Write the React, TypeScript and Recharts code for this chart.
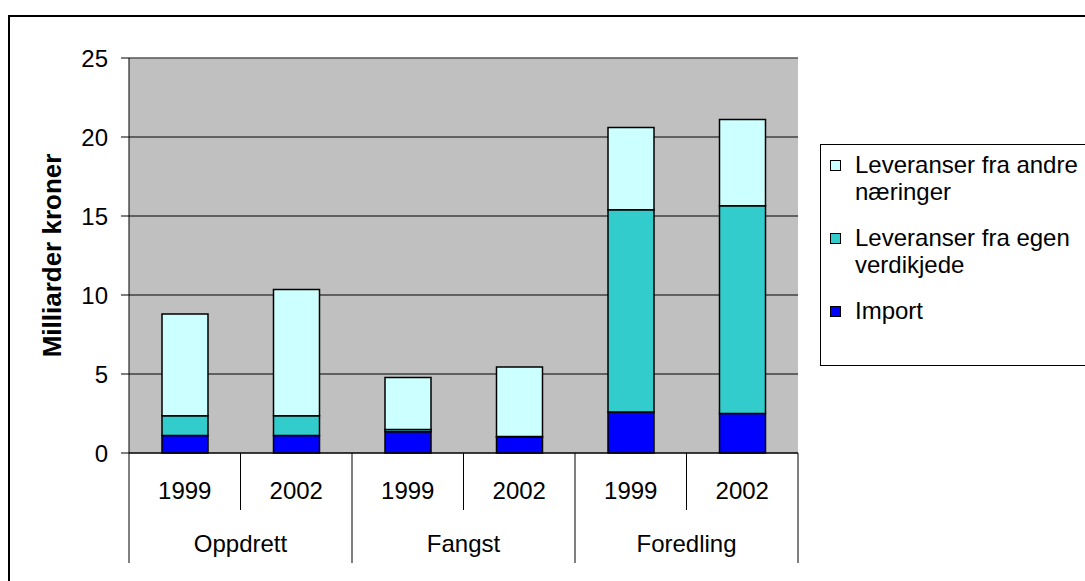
import React from "react";
import {
  BarChart,
  Bar,
  XAxis,
  YAxis,
  CartesianGrid,
  Legend,
  ReferenceLine,
} from "recharts";

const years = ["1999", "2002", "1999", "2002", "1999", "2002"];
const groups = ["Oppdrett", "Oppdrett", "Fangst", "Fangst", "Foredling", "Foredling"];
const importValues = [1.1, 1.1, 1.35, 1.0, 2.6, 2.5];
const egenValues = [1.25, 1.25, 0.13, 0.04, 12.8, 13.15];
const andreValues = [6.45, 8.0, 3.3, 4.4, 5.2, 5.45];
const yTicks = [0, 5, 10, 15, 20, 25];
const legendOrder = ["Leveranser fra andre næringer", "Leveranser fra egen verdikjede", "Import"];

const data = years.map((year, i) => ({
  year,
  group: groups[i],
  import: importValues[i],
  egen: egenValues[i],
  andre: andreValues[i],
}));

const FONT = '"Liberation Sans", Arial, sans-serif';
const W = 1085;
const H = 581;
const LEFT = 129;
const RIGHT = 287;
const BAND = (W - LEFT - RIGHT) / years.length;

function CategoryTick(props: any) {
  const { x, y, payload } = props;
  const index = props.index ?? payload.index;
  const half = BAND / 2;
  const left = x - half;
  const groupStart = index % 2 === 0;
  return (
    <g>
      <line x1={left} x2={left} y1={y} y2={groupStart ? y + 110 : y + 57} stroke="#000" />
      {index === years.length - 1 && (
        <line x1={x + half} x2={x + half} y1={y} y2={y + 110} stroke="#000" />
      )}
      <text x={x} y={y + 46} textAnchor="middle" fontSize={24} fontFamily={FONT} fill="#000">
        {payload.value}
      </text>
      {!groupStart && (
        <text x={left} y={y + 99} textAnchor="middle" fontSize={24} fontFamily={FONT} fill="#000">
          {groups[index]}
        </text>
      )}
    </g>
  );
}

function YLabel(props: any) {
  const { viewBox } = props;
  const cy = viewBox.y + viewBox.height / 2;
  return (
    <text
      x={61}
      y={cy}
      transform={`rotate(-90, 61, ${cy})`}
      textAnchor="middle"
      fontSize={26}
      fontWeight="bold"
      fontFamily={FONT}
      fill="#000"
    >
      Milliarder kroner
    </text>
  );
}

function LegendBox(props: any) {
  const payload = props.payload || [];
  const items = legendOrder
    .map((name) => payload.find((p: any) => p.value === name))
    .filter(Boolean);
  return (
    <div
      style={{
        boxSizing: "border-box",
        width: 300,
        height: 222,
        border: "1px solid #000",
        background: "#fff",
        paddingTop: 6,
        paddingLeft: 9,
        fontFamily: FONT,
        fontSize: 24,
        lineHeight: "27px",
        color: "#000",
      }}
    >
      {items.map((item: any) => (
        <div key={item.value} style={{ display: "flex", alignItems: "flex-start", marginBottom: 19 }}>
          <div
            style={{
              boxSizing: "border-box",
              width: 11,
              height: 11,
              marginTop: 9,
              marginRight: 14,
              border: "1px solid #000",
              background: item.color,
              flexShrink: 0,
            }}
          />
          <div style={{ width: 236 }}>{item.value}</div>
        </div>
      ))}
    </div>
  );
}

export default function App() {
  return (
    <div
      style={{
        position: "absolute",
        left: 0,
        top: 0,
        width: W,
        height: H,
        overflow: "hidden",
        background: "#fff",
      }}
    >
      <div
        style={{
          position: "absolute",
          left: 8,
          top: 15,
          width: 1200,
          height: 700,
          border: "2px solid #000",
        }}
      />
      <div style={{ position: "absolute", left: 0, top: 0 }}>
        <BarChart
          width={W}
          height={H}
          data={data}
          margin={{ top: 58, right: RIGHT, bottom: 0, left: 0 }}
          barSize={46}
        >
          <CartesianGrid vertical={false} stroke="#000" fill="#c0c0c0" fillOpacity={1} />
          <XAxis
            dataKey="year"
            height={128}
            interval={0}
            tickLine={false}
            tickSize={0}
            tickMargin={0}
            axisLine={{ stroke: "#000" }}
            tick={<CategoryTick />}
          />
          <YAxis
            width={LEFT}
            domain={[0, 25]}
            ticks={yTicks}
            tickSize={8}
            tickMargin={13}
            axisLine={{ stroke: "#000" }}
            tickLine={{ stroke: "#000" }}
            tick={{ fontSize: 24, fontFamily: FONT, fill: "#000" }}
            label={<YLabel />}
          />
          <YAxis
            yAxisId="right"
            orientation="right"
            width={0}
            domain={[0, 25]}
            tick={false}
            tickLine={false}
            axisLine={{ stroke: "#808080" }}
          />
          <ReferenceLine y={25} stroke="#808080" />
          <Legend
            layout="vertical"
            align="center"
            verticalAlign="middle"
            content={<LegendBox />}
            wrapperStyle={{ position: "absolute", left: 820, top: 144, width: 300, height: 222 }}
          />
          <Bar
            dataKey="import"
            name="Import"
            stackId="a"
            fill="#0000ff"
            stroke="#000"
            strokeWidth={1.5}
            isAnimationActive={false}
          />
          <Bar
            dataKey="egen"
            name="Leveranser fra egen verdikjede"
            stackId="a"
            fill="#33cccc"
            stroke="#000"
            strokeWidth={1.5}
            isAnimationActive={false}
          />
          <Bar
            dataKey="andre"
            name="Leveranser fra andre næringer"
            stackId="a"
            fill="#ccffff"
            stroke="#000"
            strokeWidth={1.5}
            isAnimationActive={false}
          />
        </BarChart>
      </div>
    </div>
  );
}
